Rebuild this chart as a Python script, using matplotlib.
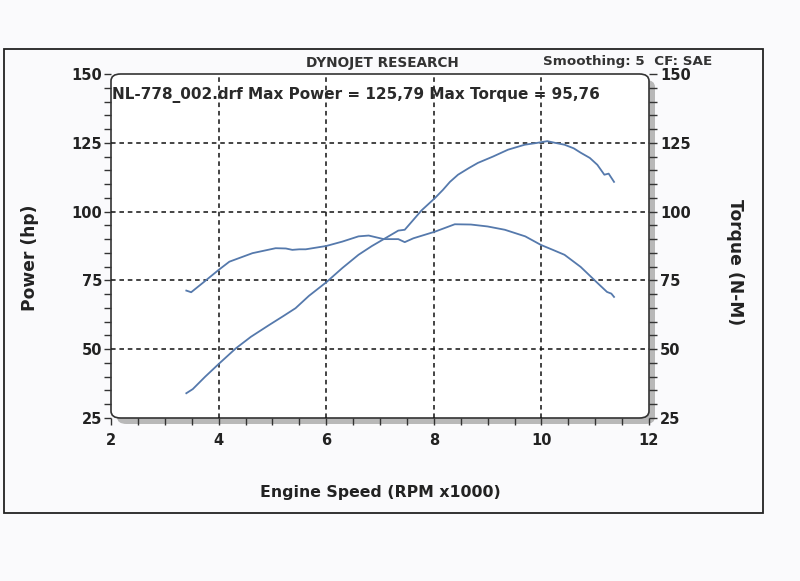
import matplotlib.pyplot as plt
from matplotlib.patches import FancyBboxPatch, Rectangle

# data (rpm x1000)
power_rpm = [3.40, 3.52, 3.75, 4.0, 4.32, 4.6, 4.94, 5.2, 5.43, 5.68, 6.0, 6.3,
             6.6, 6.85, 7.07, 7.34, 7.46, 7.62, 7.77, 8.02, 8.17, 8.3, 8.45, 8.65,
             8.82, 9.1, 9.38, 9.69, 9.9, 10.11, 10.25, 10.43, 10.6, 10.73, 10.9,
             11.04, 11.17, 11.25, 11.35]
power_hp = [34.0, 35.5, 40.0, 44.6, 50.3, 54.5, 58.8, 62.0, 64.9, 69.4, 74.3, 79.5,
            84.3, 87.5, 90.0, 93.1, 93.4, 97.0, 100.4, 104.9, 107.9, 110.8, 113.4,
            115.8, 117.7, 120.0, 122.5, 124.3, 124.9, 125.6, 125.0, 124.3, 123.0,
            121.4, 119.5, 117.0, 113.4, 113.8, 110.8]

torque_rpm = [3.40, 3.49, 3.70, 4.0, 4.2, 4.63, 5.06, 5.25, 5.37, 5.5, 5.62, 6.0,
              6.3, 6.6, 6.79, 7.07, 7.34, 7.46, 7.62, 8.02, 8.39, 8.69, 9.0, 9.32,
              9.7, 9.99, 10.2, 10.43, 10.73, 11.04, 11.22, 11.3, 11.35]
torque_nm = [71.3, 70.7, 74.0, 78.8, 81.8, 84.9, 86.7, 86.6, 86.1, 86.3, 86.3, 87.5,
             89.1, 91.0, 91.3, 90.0, 90.0, 88.9, 90.3, 92.7, 95.4, 95.3, 94.6, 93.4,
             91.0, 87.9, 86.2, 84.3, 79.9, 74.1, 70.8, 70.2, 69.0]

rpm_ticks = [2, 4, 6, 8, 10, 12]
value_ticks = [25, 50, 75, 100, 125, 150]

W, H = 800, 581
line_col = '#5579ac'


def fx(x):
    return x / W


def fy(y):
    return 1 - y / H


fig = plt.figure(figsize=(8, 5.81), dpi=100, facecolor='#fafafc')

# outer page frame
fig.add_artist(Rectangle((fx(4), fy(513)), fx(763) - fx(4), fy(49) - fy(513),
                         transform=fig.transFigure, fill=False, lw=1.3, ec='#222222',
                         zorder=-3))

# plot box: grey shadow + rounded white box (behind the axes)
L, R, T, B = 111, 649, 74, 418
fig.add_artist(FancyBboxPatch((fx(L + 6), fy(B + 6)), fx(R - L), fy(T) - fy(B),
                              boxstyle='round,pad=0,rounding_size=0.012',
                              transform=fig.transFigure, fc='#b8b8b8', ec='none',
                              zorder=-2))
fig.add_artist(FancyBboxPatch((fx(L), fy(B)), fx(R - L), fy(T) - fy(B),
                              boxstyle='round,pad=0,rounding_size=0.012',
                              transform=fig.transFigure, fc='white', ec='#333333',
                              lw=1.2, zorder=-1))

ax = fig.add_axes([fx(L), fy(B), fx(R - L), fy(T) - fy(B)])
ax.patch.set_alpha(0)
for s in ax.spines.values():
    s.set_visible(False)
ax.set_xlim(2, 12)
ax.set_ylim(25, 150)

ax.set_xticks(rpm_ticks)
ax.set_xticks([2 + 0.5 * i for i in range(21)], minor=True)
ax.set_yticks(value_ticks)
ax.set_yticks(range(25, 151, 5), minor=True)
ax.tick_params(axis='both', which='both', direction='out', length=5, width=1,
               color='#333333', labelsize=10.5, labelcolor='#222222')
ax.tick_params(axis='x', which='major', pad=6)
ax.tick_params(axis='y', which='major', pad=1.5)
for lab in ax.get_xticklabels() + ax.get_yticklabels():
    lab.set_fontweight('bold')

for x in rpm_ticks[1:-1]:
    ax.axvline(x, color='#111111', ls=(0, (3, 2.5)), lw=1.1, zorder=1)
for y in value_ticks[1:-1]:
    ax.axhline(y, color='#111111', ls=(0, (3, 2.5)), lw=1.1, zorder=1)

ax.plot(power_rpm, power_hp, color=line_col, lw=1.3, zorder=3)

ax2 = ax.twinx()
ax2.patch.set_alpha(0)
for s in ax2.spines.values():
    s.set_visible(False)
ax2.set_ylim(25, 150)
ax2.set_yticks(value_ticks)
ax2.set_yticks(range(25, 151, 5), minor=True)
ax2.tick_params(axis='y', which='both', direction='out', length=6, width=1,
                color='#333333', labelsize=10.5, labelcolor='#222222', pad=2)
for lab in ax2.get_yticklabels():
    lab.set_fontweight('bold')
ax2.plot(torque_rpm, torque_nm, color=line_col, lw=1.3, zorder=3)

# texts
fig.text(fx(382), fy(63), 'DYNOJET RESEARCH', ha='center', va='center',
         fontsize=9.8, fontweight='bold', color='#333333')
fig.text(fx(543), fy(61), 'Smoothing: 5  CF: SAE', ha='left', va='center',
         fontsize=9.7, fontweight='bold', color='#333333')
fig.text(fx(112), fy(95), 'NL-778_002.drf Max Power = 125,79 Max Torque = 95,76',
         ha='left', va='center', fontsize=11, fontweight='bold', color='#2a2a2a')
fig.text(fx(30), fy(258), 'Power (hp)', ha='center', va='center', rotation=90,
         fontsize=12.3, fontweight='bold', color='#222222')
fig.text(fx(735), fy(262), 'Torque (N-M)', ha='center', va='center', rotation=-90,
         fontsize=12.3, fontweight='bold', color='#222222')
fig.text(fx(380), fy(493), 'Engine Speed (RPM x1000)', ha='center', va='center',
         fontsize=11.3, fontweight='bold', color='#222222')

fig.savefig('out.png', dpi=100, facecolor=fig.get_facecolor())
